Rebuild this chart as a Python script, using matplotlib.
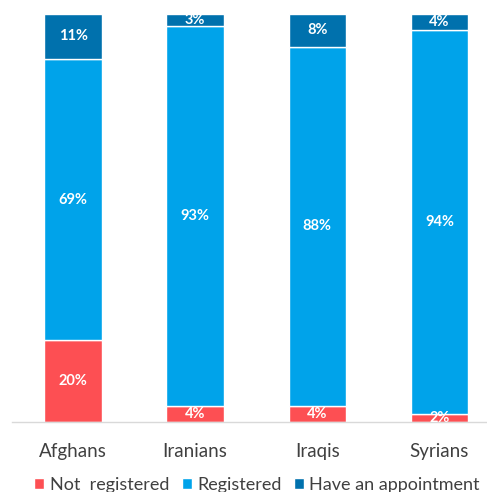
import numpy as np
import matplotlib
matplotlib.use("Agg")
import matplotlib.pyplot as plt

groups = ["Afghans", "Iranians", "Iraqis", "Syrians"]
not_registered = [20, 4, 4, 2]
registered = [69, 93, 88, 94]
appointment = [11, 3, 8, 4]

series = [
    ("Not  registered", not_registered, "#fd4f53"),
    ("Registered", registered, "#00a3ea"),
    ("Have an appointment", appointment, "#0071ad"),
]

plt.rcParams["font.family"] = ["Lato", "DejaVu Sans"]

fig = plt.figure(figsize=(4.87, 4.92), dpi=100)
ax = fig.add_axes([12 / 487, 70 / 492, 475 / 487, 408 / 492])

x = np.arange(len(groups))
bottom = np.zeros(len(groups))
for name, vals, color in series:
    vals = np.array(vals, dtype=float)
    ax.bar(x, vals, 0.47, bottom=bottom, color=color,
           edgecolor="white", linewidth=1, label=name)
    for xi, b, v in zip(x, bottom, vals):
        ax.text(xi, b + v / 2, f"{int(v)}%", ha="center", va="center",
                color="white", fontsize=10.5, fontweight="bold")
    bottom += vals

ax.set_xlim(-0.5, 3.39)
ax.set_ylim(0, 100)
ax.set_xticks(x)
ax.set_xticklabels(groups, fontsize=13.5, color="#404040")
ax.tick_params(axis="x", length=0, pad=15)
ax.set_yticks([])
for side in ["top", "left", "right"]:
    ax.spines[side].set_visible(False)
ax.spines["bottom"].set_color("#d9d9d9")
ax.spines["bottom"].set_linewidth(1)

leg = fig.legend(loc="center", bbox_to_anchor=(257 / 487, 1 - 485 / 492),
                 ncol=3, frameon=False, fontsize=13, handlelength=0.55,
                 handleheight=0.55, handletextpad=0.3, columnspacing=0.7,
                 borderpad=0)
for t in leg.get_texts():
    t.set_color("#404040")

fig.savefig("out.png", dpi=100)
